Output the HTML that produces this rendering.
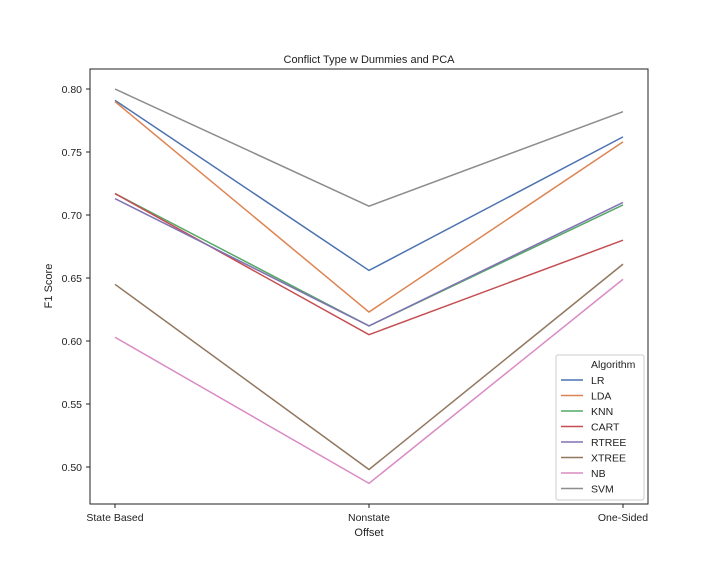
<!DOCTYPE html>
<html><head><meta charset="utf-8"><style>
body{margin:0;background:#fff;}
svg text{font-family:"Liberation Sans","DejaVu Sans",sans-serif;fill:#222;}
</style></head><body>
<svg id="chart" width="720" height="576" xmlns="http://www.w3.org/2000/svg">
<rect width="720" height="576" fill="#fff"/>
<text x="369" y="63" font-size="11" text-anchor="middle">Conflict Type w Dummies and PCA</text>
<g id="ticks"></g>
<g id="lines"></g>
<rect x="90" y="69" width="558" height="435" fill="none" stroke="#222" stroke-width="1"/>
<text x="369" y="536" font-size="11" text-anchor="middle">Offset</text>
<text transform="translate(52,286) rotate(-90)" font-size="11" text-anchor="middle">F1 Score</text>
<g id="legend"></g>
</svg>
<script>
const categories = ["State Based","Nonstate","One-Sided"];
const yTicks = [0.50,0.55,0.60,0.65,0.70,0.75,0.80];
const seriesNames = ["LR","LDA","KNN","CART","RTREE","XTREE","NB","SVM"];
const colors = ["#4c72b0","#dd8452","#55a868","#c44e52","#8172b3","#937860","#da8bc3","#8c8c8c"];
const LR = [0.791,0.656,0.762];
const LDA = [0.790,0.623,0.758];
const KNN = [0.717,0.612,0.708];
const CART = [0.717,0.605,0.680];
const RTREE = [0.713,0.612,0.710];
const XTREE = [0.645,0.498,0.661];
const NB = [0.603,0.487,0.649];
const SVM = [0.800,0.707,0.782];
const seriesValues = [LR,LDA,KNN,CART,RTREE,XTREE,NB,SVM];

const NS="http://www.w3.org/2000/svg";
const xs = i => 115 + i*254;
const ys = v => 89 + (0.80 - v)/0.05*63;
function mk(tag, attrs, parent){const e=document.createElementNS(NS,tag);for(const k in attrs)e.setAttribute(k,attrs[k]);parent.appendChild(e);return e;}
const tg=document.getElementById('ticks');
yTicks.forEach(t=>{
  const y=ys(t);
  const l=mk('line',{x1:86,x2:90,y1:y,y2:y,stroke:'#222'},tg);
  
  
  const tx=mk('text',{x:82,y:y+4,'font-size':10.5,'text-anchor':'end'},tg);
  tx.textContent=t.toFixed(2);
  
  
});
categories.forEach((c,i)=>{
  const x=xs(i);
  const l=mk('line',{x1:x,x2:x,y1:504,y2:508,stroke:'#222'},tg);
  
  
  const tx=mk('text',{x:x,y:521,'font-size':10.5,'text-anchor':'middle'},tg);
  tx.textContent=c;
  
  
});
const lg=document.getElementById('lines');
seriesValues.forEach((vals,s)=>{
  const p=mk('polyline',{points:vals.map((v,i)=>xs(i)+','+ys(v)).join(' '),fill:'none',stroke:colors[s],'stroke-width':1.5},lg);
  
  
});
const leg=document.getElementById('legend');
const box=mk('rect',{x:556,y:355,width:88,height:145,fill:'#fff','fill-opacity':0.8,stroke:'#ccc',rx:2},leg);


const ttl=mk('text',{x:591,y:368,'font-size':10.5},leg);
ttl.textContent='Algorithm';


seriesNames.forEach((n,s)=>{
  const y=380+s*15.5;
  const l=mk('line',{x1:561,x2:583,y1:y,y2:y,stroke:colors[s],'stroke-width':1.5},leg);
  
  
  const t=mk('text',{x:591,y:y+4,'font-size':10.5},leg);
  t.textContent=n;
  
  
});
</script>
</body></html>
